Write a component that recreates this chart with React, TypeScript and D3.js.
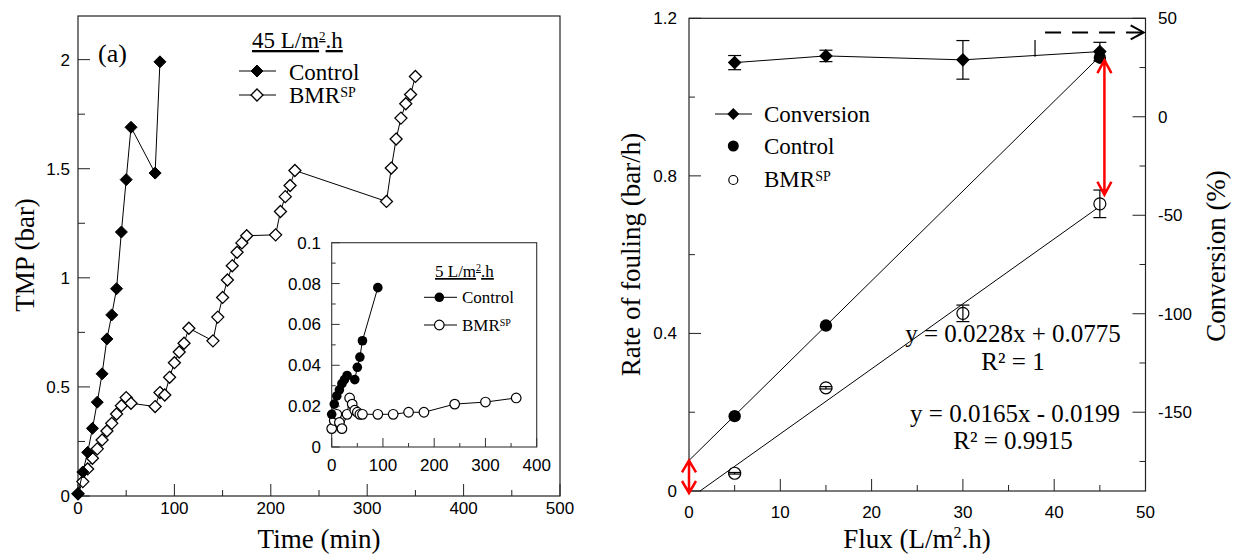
import React from 'react';
import * as d3 from 'd3';

// ---------- Panel (a): TMP vs time at 45 L/m2.h ----------
const ctrlTime = [0, 5, 10, 15, 20, 25, 30, 35, 40, 45, 50, 55, 80, 85];
const ctrlTMP = [0.01, 0.11, 0.2, 0.31, 0.43, 0.56, 0.72, 0.83, 0.95, 1.21, 1.45, 1.69, 1.48, 1.99];
const bmrTime = [0, 5, 10, 15, 20, 25, 30, 35, 40, 45, 50, 55, 80, 85, 90, 95, 100, 105, 110, 115, 140, 145, 150, 155, 160, 165, 170, 175, 205, 210, 215, 220, 225, 320, 325, 330, 335, 340, 345, 350];
const bmrTMP = [0.01, 0.066, 0.124, 0.173, 0.216, 0.257, 0.298, 0.333, 0.376, 0.414, 0.451, 0.425, 0.41, 0.474, 0.463, 0.544, 0.611, 0.66, 0.7, 0.769, 0.711, 0.82, 0.91, 0.99, 1.055, 1.117, 1.16, 1.193, 1.197, 1.304, 1.372, 1.423, 1.492, 1.35, 1.503, 1.636, 1.732, 1.798, 1.84, 1.923];

// ---------- Inset: TMP vs time at 5 L/m2.h ----------
const inCtrlTime = [0, 5, 10, 15, 20, 25, 30, 45, 50, 55, 60, 90];
const inCtrlTMP = [0.016, 0.021, 0.025, 0.028, 0.031, 0.033, 0.035, 0.033, 0.039, 0.044, 0.052, 0.078];
const inBmrTime = [0, 5, 10, 15, 20, 30, 35, 40, 45, 50, 55, 60, 90, 120, 150, 180, 240, 300, 360];
const inBmrTMP = [0.009, 0.013, 0.016, 0.012, 0.009, 0.016, 0.024, 0.021, 0.018, 0.017, 0.016, 0.016, 0.016, 0.016, 0.017, 0.017, 0.021, 0.022, 0.024];

// ---------- Panel (b): rate of fouling / conversion vs flux ----------
const convFlux = [5, 15, 30, 45];
const convMean = [27.5, 30.9, 28.9, 33.1];
const convErr = [3.6, 2.9, 9.8, 4.7];
const ctrlFlux = [5, 15, 45];
const ctrlRate = [0.19, 0.42, 1.1];
const bmrFlux = [5, 15, 30, 45];
const bmrRate = [0.045, 0.262, 0.451, 0.729];
const bmrErr = [0.002, 0.003, 0.021, 0.035];
const ctrlFit = [0.0228, 0.0775];
const bmrFit = [0.0165, -0.0199];

const leftYTicks = d3.range(0, 2.2001, 0.25);
const leftXTicks = d3.range(0, 500.1, 50);
const inYTicks = d3.range(0, 0.1001, 0.01);
const inXTicks = d3.range(0, 400.1, 50);
const rYTicks = d3.range(0, 1.2001, 0.2);
const rXTicks = d3.range(0, 50.1, 5);
const rCTicks = d3.range(-175, 50.1, 25);

const SERIF = "'Liberation Serif', 'Times New Roman', serif";
const SANS = "'Liberation Sans', Arial, sans-serif";
const AX = '#222';

const diamond = (cx: number, cy: number, s: number) =>
  `M${cx},${cy - s}L${cx + s},${cy}L${cx},${cy + s}L${cx - s},${cy}Z`;

const fmt = (v: number) => String(+v.toFixed(3));
const near = (v: number, step: number) => Math.abs(v / step - Math.round(v / step)) < 1e-6;

export default function App() {
  const xL = d3.scaleLinear().domain([0, 500]).range([78, 560]);
  const yL = d3.scaleLinear().domain([0, 2.2]).range([496, 16]);
  const xI = d3.scaleLinear().domain([0, 400]).range([331.7, 536.7]);
  const yI = d3.scaleLinear().domain([0, 0.1]).range([447, 242.7]);
  const xR = d3.scaleLinear().domain([0, 50]).range([689, 1145.5]);
  const yR = d3.scaleLinear().domain([0, 1.2]).range([491, 18.3]);
  const yC = d3.scaleLinear().domain([-190, 50]).range([491, 18.3]);

  const lineL = d3.line<number>();
  const mk = (xs: number[], ys: number[], sx: any, sy: any) =>
    lineL(xs.map((x, i) => [sx(x), sy(ys[i])] as any) as any) as string;

  const ctrlFitPts: [number, number][] = [0, 45].map((f) => [xR(f), yR(ctrlFit[0] * f + ctrlFit[1])]);
  const bmrX0 = -bmrFit[1] / bmrFit[0];
  const bmrFitPts: [number, number][] = [bmrX0, 45].map((f) => [xR(f), yR(bmrFit[0] * f + bmrFit[1])]);

  const vArrow = (x: number, yTop: number, yBot: number, hl: number, hw: number) =>
    `M${x},${yTop}L${x},${yBot}M${x - hw},${yTop + hl}L${x},${yTop}L${x + hw},${yTop + hl}M${x - hw},${yBot - hl}L${x},${yBot}L${x + hw},${yBot - hl}`;

  const arrowA = vArrow(xR(0), yR(ctrlFit[1]), yR(0) + 2, 12, 7);
  const arrowB = vArrow(xR(45.5), yR(1.094), yR(0.752), 13, 7);

  const dashY = yC(42.8);
  const dashX1 = xR(39);
  const dashX2 = xR(49.8);

  return (
    <svg width={1233} height={556} style={{ position: 'absolute', left: 0, top: 0, background: '#fff' }}>
      <rect x={0} y={0} width={1233} height={556} fill="#fff" />

      {/* ================= LEFT PANEL ================= */}
      <rect x={78} y={16} width={482} height={480} fill="none" stroke={AX} strokeWidth={1.2} />
      {leftYTicks.map((v) => (
        <line key={'ly' + v} x1={78} x2={78 + (near(v, 0.5) ? 12 : 7)} y1={yL(v)} y2={yL(v)} stroke={AX} strokeWidth={1} />
      ))}
      {leftYTicks.filter((v) => near(v, 0.5)).map((v) => (
        <text key={'lyl' + v} x={70} y={yL(v)} dy="0.35em" textAnchor="end" fontFamily={SANS} fontSize={17}>{fmt(v)}</text>
      ))}
      {leftXTicks.map((v) => (
        <line key={'lx' + v} x1={xL(v)} x2={xL(v)} y1={496} y2={496 - (near(v, 100) ? 12 : 6)} stroke={AX} strokeWidth={1} />
      ))}
      {leftXTicks.filter((v) => near(v, 100)).map((v) => (
        <text key={'lxl' + v} x={xL(v)} y={514} textAnchor="middle" fontFamily={SANS} fontSize={17}>{fmt(v)}</text>
      ))}
      <text x={319} y={548} textAnchor="middle" fontFamily={SERIF} fontSize={27}>Time (min)</text>
      <text transform="translate(34,255) rotate(-90)" textAnchor="middle" fontFamily={SERIF} fontSize={27}>TMP (bar)</text>

      {/* series */}
      <path d={mk(bmrTime, bmrTMP, xL, yL)} fill="none" stroke="#000" strokeWidth={1} />
      {bmrTime.map((t, i) => (
        <path key={'bd' + i} d={diamond(xL(t), yL(bmrTMP[i]), 6)} fill="#fff" stroke="#000" strokeWidth={1.3} />
      ))}
      <path d={mk(ctrlTime, ctrlTMP, xL, yL)} fill="none" stroke="#000" strokeWidth={1} />
      {ctrlTime.map((t, i) => (
        <path key={'cd' + i} d={diamond(xL(t), yL(ctrlTMP[i]), 6)} fill="#000" stroke="#000" strokeWidth={1} />
      ))}

      {/* legend */}
      <text x={98} y={62} fontFamily={SERIF} fontSize={26}>(a)</text>
      <text x={252} y={48} fontFamily={SERIF} fontSize={23} textDecoration="underline">
        45 L/m<tspan fontSize={13} dy={-8}>2</tspan><tspan dy={8}>.h</tspan>
      </text>
      <line x1={239} x2={276} y1={71} y2={71} stroke="#000" strokeWidth={1} />
      <path d={diamond(257, 71, 6)} fill="#000" stroke="#000" />
      <text x={289} y={80} fontFamily={SERIF} fontSize={23}>Control</text>
      <line x1={239} x2={276} y1={95} y2={95} stroke="#000" strokeWidth={1} />
      <path d={diamond(257, 95, 6)} fill="#fff" stroke="#000" strokeWidth={1.3} />
      <text x={289} y={103} fontFamily={SERIF} fontSize={23}>BMR<tspan fontSize={14} dy={-6}>SP</tspan></text>

      {/* ================= INSET ================= */}
      <rect x={331.7} y={242.7} width={205} height={204.3} fill="#fff" stroke="#333" strokeWidth={1.1} />
      {inYTicks.map((v) => (
        <line key={'iy' + v} x1={331.7} x2={331.7 + (near(v, 0.02) ? 8 : 4)} y1={yI(v)} y2={yI(v)} stroke="#333" strokeWidth={1} />
      ))}
      {inYTicks.filter((v) => near(v, 0.02)).map((v) => (
        <text key={'iyl' + v} x={321} y={yI(v)} dy="0.35em" textAnchor="end" fontFamily={SANS} fontSize={17}>{fmt(v)}</text>
      ))}
      {inXTicks.map((v) => (
        <line key={'ix' + v} x1={xI(v)} x2={xI(v)} y1={447} y2={447 - (near(v, 100) ? 9 : 4)} stroke="#333" strokeWidth={1} />
      ))}
      {inXTicks.filter((v) => near(v, 100)).map((v) => (
        <text key={'ixl' + v} x={xI(v)} y={471} textAnchor="middle" fontFamily={SANS} fontSize={17}>{fmt(v)}</text>
      ))}
      <path d={mk(inBmrTime, inBmrTMP, xI, yI)} fill="none" stroke="#000" strokeWidth={1} />
      {inBmrTime.map((t, i) => (
        <circle key={'ib' + i} cx={xI(t)} cy={yI(inBmrTMP[i])} r={4.8} fill="#fff" stroke="#000" strokeWidth={1.2} />
      ))}
      <path d={mk(inCtrlTime, inCtrlTMP, xI, yI)} fill="none" stroke="#000" strokeWidth={1} />
      {inCtrlTime.map((t, i) => (
        <circle key={'ic' + i} cx={xI(t)} cy={yI(inCtrlTMP[i])} r={4.8} fill="#000" />
      ))}
      <text x={435} y={277} fontFamily={SERIF} fontSize={17} textDecoration="underline">
        5 L/m<tspan fontSize={10} dy={-6}>2</tspan><tspan dy={6}>.h</tspan>
      </text>
      <line x1={424} x2={457} y1={297.3} y2={297.3} stroke="#000" strokeWidth={1} />
      <circle cx={439.3} cy={297.3} r={4.8} fill="#000" />
      <text x={462} y={303} fontFamily={SERIF} fontSize={17}>Control</text>
      <line x1={424} x2={457} y1={325} y2={325} stroke="#000" strokeWidth={1} />
      <circle cx={439.3} cy={325} r={4.8} fill="#fff" stroke="#000" strokeWidth={1.2} />
      <text x={462} y={331} fontFamily={SERIF} fontSize={17}>BMR<tspan fontSize={10} dy={-5}>SP</tspan></text>

      {/* ================= RIGHT PANEL ================= */}
      <rect x={689} y={18.3} width={456.5} height={472.7} fill="none" stroke={AX} strokeWidth={1.2} />
      {rYTicks.map((v) => (
        <line key={'ry' + v} x1={689} x2={689 + (near(v, 0.4) ? 12 : 6)} y1={yR(v)} y2={yR(v)} stroke={AX} strokeWidth={1} />
      ))}
      {rYTicks.filter((v) => near(v, 0.4)).map((v) => (
        <text key={'ryl' + v} x={677} y={yR(v)} dy="0.35em" textAnchor="end" fontFamily={SANS} fontSize={17}>{fmt(v)}</text>
      ))}
      {rXTicks.map((v) => (
        <line key={'rx' + v} x1={xR(v)} x2={xR(v)} y1={491} y2={491 - (near(v, 10) ? 12 : 6)} stroke={AX} strokeWidth={1} />
      ))}
      {rXTicks.filter((v) => near(v, 10)).map((v) => (
        <text key={'rxl' + v} x={xR(v)} y={518} textAnchor="middle" fontFamily={SANS} fontSize={17}>{fmt(v)}</text>
      ))}
      {rCTicks.map((v) => (
        <line key={'rc' + v} x1={1145.5} x2={1145.5 - (near(v, 50) ? 13 : 6)} y1={yC(v)} y2={yC(v)} stroke={AX} strokeWidth={1} />
      ))}
      {rCTicks.filter((v) => near(v, 50)).map((v) => (
        <text key={'rcl' + v} x={1158} y={yC(v)} dy="0.35em" textAnchor="start" fontFamily={SANS} fontSize={17}>{fmt(v)}</text>
      ))}
      <text x={917} y={548} textAnchor="middle" fontFamily={SERIF} fontSize={27}>
        Flux (L/m<tspan fontSize={16} dy={-10}>2</tspan><tspan dy={10}>.h)</tspan>
      </text>
      <text transform="translate(640,254.5) rotate(-90)" textAnchor="middle" fontFamily={SERIF} fontSize={27}>Rate of fouling (bar/h)</text>
      <text transform="translate(1225,256) rotate(-90)" textAnchor="middle" fontFamily={SERIF} fontSize={27}>Conversion (%)</text>

      {/* regression lines */}
      <path d={d3.line()(ctrlFitPts) as string} stroke="#000" strokeWidth={1} fill="none" />
      <path d={d3.line()(bmrFitPts) as string} stroke="#000" strokeWidth={1} fill="none" />

      {/* conversion series */}
      <path d={mk(convFlux, convMean, xR, yC)} fill="none" stroke="#000" strokeWidth={1} />
      {convFlux.map((f, i) => (
        <g key={'cv' + i} stroke="#000" strokeWidth={1.2}>
          <line x1={xR(f)} x2={xR(f)} y1={yC(convMean[i] + convErr[i])} y2={yC(convMean[i] - convErr[i])} />
          <line x1={xR(f) - 6.5} x2={xR(f) + 6.5} y1={yC(convMean[i] + convErr[i])} y2={yC(convMean[i] + convErr[i])} />
          <line x1={xR(f) - 6.5} x2={xR(f) + 6.5} y1={yC(convMean[i] - convErr[i])} y2={yC(convMean[i] - convErr[i])} />
          <path d={diamond(xR(f), yC(convMean[i]), 6)} fill="#000" />
        </g>
      ))}
      <line x1={xR(37.9)} x2={xR(37.9)} y1={yC(39)} y2={yC(30.5)} stroke="#000" strokeWidth={1.2} />

      {/* BMR fouling rate */}
      {bmrFlux.map((f, i) => (
        <g key={'br' + i} stroke="#000" strokeWidth={1.2}>
          <circle cx={xR(f)} cy={yR(bmrRate[i])} r={6} fill="#fff" />
          <line x1={xR(f)} x2={xR(f)} y1={yR(bmrRate[i] + bmrErr[i])} y2={yR(bmrRate[i] - bmrErr[i])} />
          <line x1={xR(f) - 6.5} x2={xR(f) + 6.5} y1={yR(bmrRate[i] + bmrErr[i])} y2={yR(bmrRate[i] + bmrErr[i])} />
          <line x1={xR(f) - 6.5} x2={xR(f) + 6.5} y1={yR(bmrRate[i] - bmrErr[i])} y2={yR(bmrRate[i] - bmrErr[i])} />
        </g>
      ))}
      {/* Control fouling rate */}
      {ctrlFlux.map((f, i) => (
        <circle key={'cr' + i} cx={xR(f)} cy={yR(ctrlRate[i])} r={6.2} fill="#000" />
      ))}

      {/* annotations */}
      <path d={arrowA} stroke="#ff0000" strokeWidth={2.5} fill="none" />
      <path d={arrowB} stroke="#ff0000" strokeWidth={2.5} fill="none" />
      <line x1={dashX1} x2={dashX2 - 2} y1={dashY} y2={dashY} stroke="#000" strokeWidth={2} strokeDasharray="16,11" />
      <path d={`M${dashX2 - 13},${dashY - 7}L${dashX2},${dashY}L${dashX2 - 13},${dashY + 7}`} stroke="#000" strokeWidth={2} fill="none" />

      <text x={1013} y={342} textAnchor="middle" fontFamily={SERIF} fontSize={25}>y = 0.0228x + 0.0775</text>
      <text x={1013} y={370} textAnchor="middle" fontFamily={SERIF} fontSize={25}>R² = 1</text>
      <text x={1015} y={422} textAnchor="middle" fontFamily={SERIF} fontSize={25}>y = 0.0165x - 0.0199</text>
      <text x={1013} y={449} textAnchor="middle" fontFamily={SERIF} fontSize={25}>R² = 0.9915</text>

      {/* legend */}
      <line x1={715} x2={752} y1={114} y2={114} stroke="#000" strokeWidth={1} />
      <path d={diamond(733.3, 114, 6)} fill="#000" />
      <text x={764} y={122} fontFamily={SERIF} fontSize={23}>Conversion</text>
      <circle cx={733.3} cy={146} r={5.5} fill="#000" />
      <text x={764} y={154} fontFamily={SERIF} fontSize={23}>Control</text>
      <circle cx={733.3} cy={180} r={4.5} fill="#fff" stroke="#000" strokeWidth={1.2} />
      <text x={764} y={187} fontFamily={SERIF} fontSize={23}>BMR<tspan fontSize={14} dy={-6}>SP</tspan></text>
    </svg>
  );
}
